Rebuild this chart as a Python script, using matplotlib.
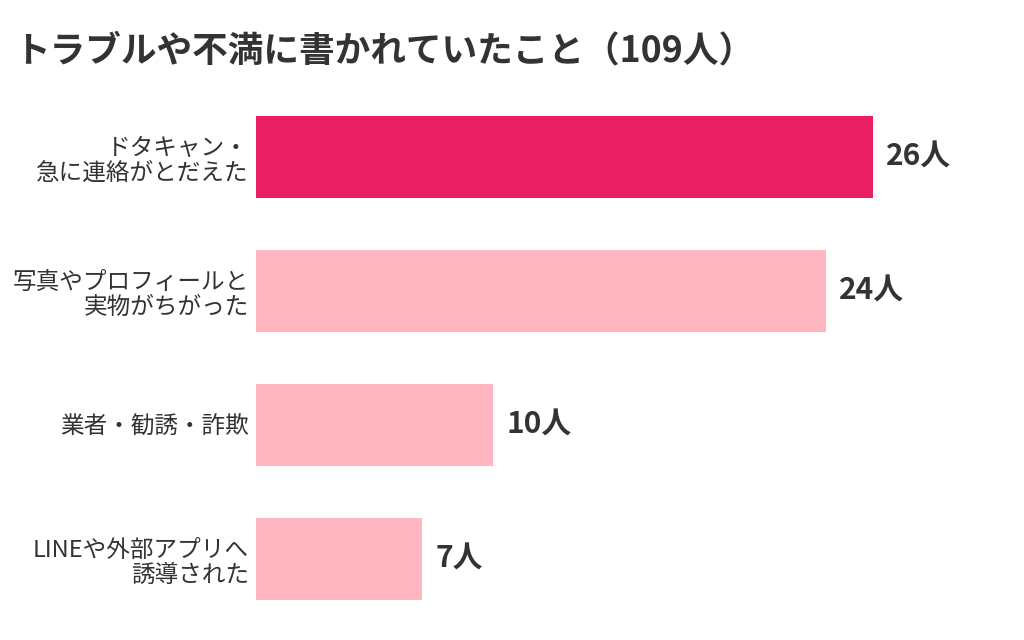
import matplotlib
matplotlib.use('Agg')
import matplotlib.pyplot as plt

plt.rcParams['font.family'] = ['Noto Sans CJK JP', 'DejaVu Sans']

# data
labels = ['ドタキャン・\n急に連絡がとだえた',
          '写真やプロフィールと\n実物がちがった',
          '業者・勧誘・詐欺',
          'LINEや外部アプリへ\n誘導された']
counts = [26, 24, 10, 7]
colors = ['#E91E63', '#FFB6C1', '#FFB6C1', '#FFB6C1']
title = 'トラブルや不満に書かれていたこと（109人）'
text_color = '#333333'

W, H = 1024, 640
fig = plt.figure(figsize=(W / 100, H / 100), dpi=100)

# axes placed in pixel terms: bars start at x=256, 26 -> x=873
px_per_unit = (873 - 256) / 26
xmax = 30
ax = fig.add_axes([256 / W, (H - 626) / H, xmax * px_per_unit / W, 536 / H])

y = list(range(len(counts)))
ax.barh(y, counts, height=82 / 134, color=colors)
ax.set_xlim(0, xmax)
ax.set_ylim(3.5, -0.5)

ax.set_yticks(y)
ax.set_yticklabels(labels, fontsize=17, color=text_color, linespacing=1.12)
ax.tick_params(axis='y', length=0, pad=5)
ax.set_xticks([])
for s in ax.spines.values():
    s.set_visible(False)

for yi, c in zip(y, counts):
    ax.annotate(f'{c}人', (c, yi), xytext=(9.5, 0), textcoords='offset points',
                ha='left', va='center', fontsize=21.5, fontweight='bold',
                color=text_color)

fig.text(14 / W, 1 - 51 / H, title, fontsize=25.7, fontweight='bold',
         color=text_color, ha='left', va='center')

fig.savefig('out.png', dpi=100, facecolor='white')
